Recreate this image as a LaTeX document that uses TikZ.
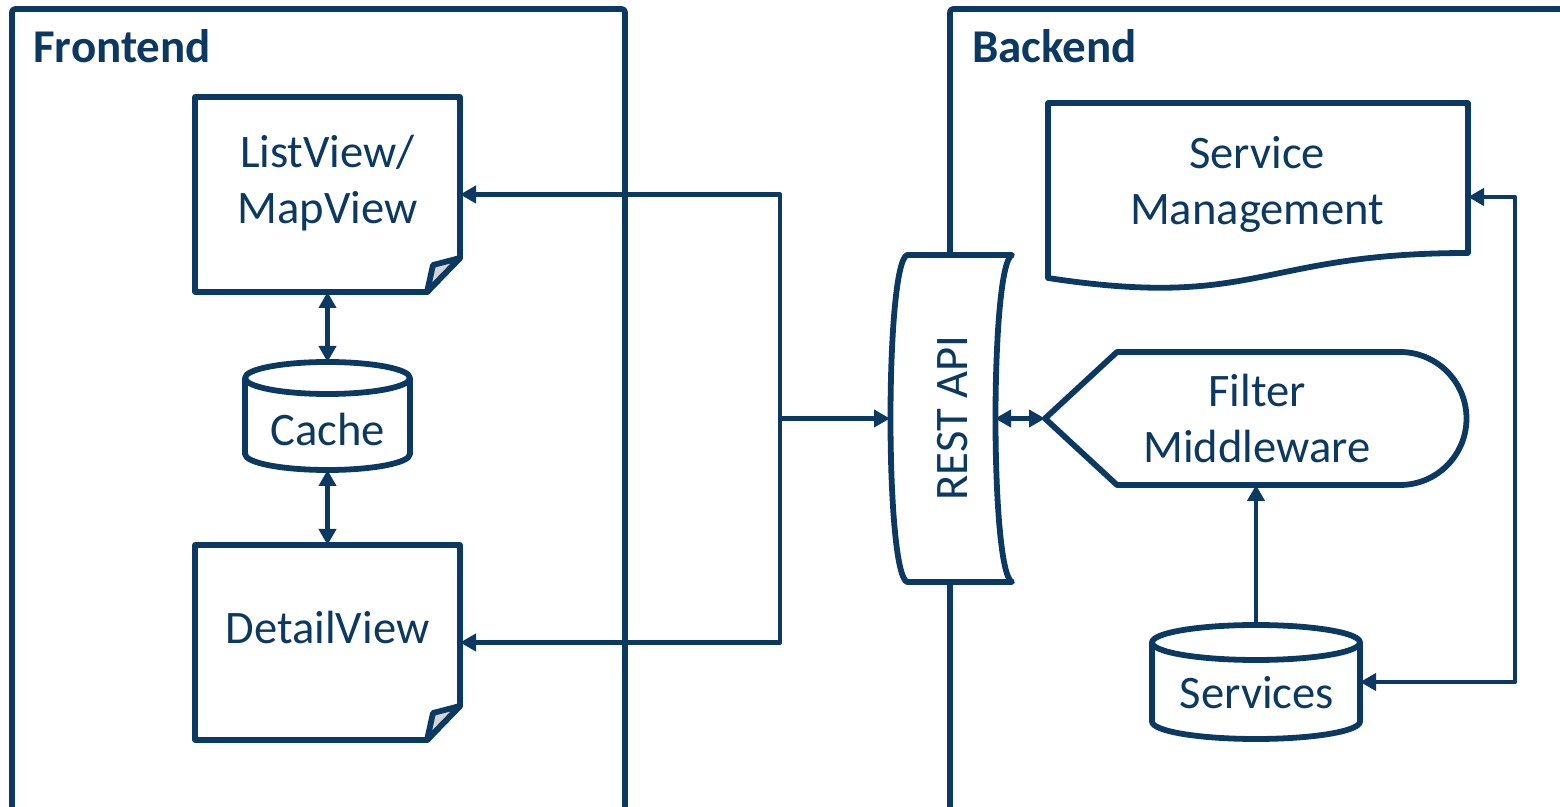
\documentclass[tikz,border=0pt]{standalone}
\usepackage{fontspec}
\setmainfont{Carlito}
\usetikzlibrary{arrows.meta,calc}

\definecolor{navy}{RGB}{12,57,97}
\definecolor{foldgray}{RGB}{212,212,212}

\begin{document}
\begin{tikzpicture}[x=0.5pt,y=-0.5pt,line join=round,
    slot/.style={draw=none,inner sep=0pt,outer sep=0pt},
    txt/.style={text=navy,font=\fontsize{23.3pt}{28pt}\selectfont,align=center,inner sep=0pt},
    head/.style={text=navy,font=\fontsize{23.5pt}{28pt}\selectfont\bfseries,anchor=base west,inner sep=0pt},
    outline/.style={draw=navy,line width=2.9pt,fill=white},
    panel/.style={draw=navy,line width=2.8pt,rounded corners=1.5pt},
    link/.style={draw=navy,line width=2.4pt,-{Triangle[length=8pt,width=8.5pt]}},
    twoway/.style={link,{Triangle[length=8pt,width=8.5pt]}-{Triangle[length=8pt,width=8.5pt]}}]

    \useasboundingbox (0,0) rectangle (1560,807);

    % the two areas
    \draw[panel] (12,830) -- (12,9) -- (625,9) -- (625,830);
    \draw[panel] (950,830) -- (950,9) -- (1580,9);
    \node[head] (front) at (33,63) {Frontend};
    \node[head] (back) at (972,63) {Backend};

    % boxes
    \node[slot,minimum width=132.5pt,minimum height=97.5pt] (list) at (327.5,194.5) {};
    \node[slot,minimum width=132.5pt,minimum height=97.5pt] (detail) at (327.5,642.5) {};
    \node[slot,minimum width=82.5pt,minimum height=54pt] (cache) at (327.5,416) {};
    \node[slot,minimum width=52.5pt,minimum height=164.5pt] (rest) at (942.5,418.5) {};
    \node[slot,minimum width=211pt,minimum height=66.5pt] (filt) at (1256,418.5) {};
    \node[slot,minimum width=210pt,minimum height=94pt] (mgmt) at (1258,197) {};
    \node[slot,minimum width=104pt,minimum height=57pt] (serv) at (1256,682) {};

    % documents with folded corner
    \foreach \d in {list,detail} {
        \draw[outline] (\d.north west) -- (\d.north east) -- ($(\d.south east)+(0,-34)$)
            -- ($(\d.south east)+(-33,0)$) -- (\d.south west) -- cycle;
        \draw[outline,fill=foldgray] ($(\d.south east)+(-33,0)$) -- ($(\d.south east)+(-27,-27)$)
            -- ($(\d.south east)+(0,-34)$) -- cycle;
    }

    % data stores
    \draw[outline] ($(cache.north west)+(0,16)$) -- ($(cache.south west)+(0,-16)$)
        arc[start angle=180,end angle=0,x radius=82.5,y radius=16] -- ($(cache.north east)+(0,16)$);
    \draw[outline] ($(cache.north)+(0,16)$) ellipse[x radius=82.5,y radius=16];
    \draw[outline] ($(serv.north west)+(0,17.5)$) -- ($(serv.south west)+(0,-17.5)$)
        arc[start angle=180,end angle=0,x radius=104,y radius=17.5] -- ($(serv.north east)+(0,17.5)$);
    \draw[outline] ($(serv.north)+(0,17.5)$) ellipse[x radius=104,y radius=17.5];

    % interface
    \draw[outline] (907,255) .. controls (885,265) and (885,572) .. (907,582) -- (1012,582)
        .. controls (990,572) and (990,265) .. (1012,255) -- cycle;

    % display shape
    \draw[outline] (filt.west) -- (1117,352) -- (1400,352) arc[start angle=-90,end angle=90,radius=66.5]
        -- (1117,485) -- cycle;

    % wavy document
    \draw[outline] (mgmt.north west) -- (mgmt.north east) -- (1468,253)
        .. controls (1258,253) and (1258,310) .. (1048,278) -- cycle;

    % texts
    \node[txt] (listtxt) at (327.5,183) {ListView/\\MapView};
    \node[txt] (detailtxt) at (327.5,627) {DetailView};
    \node[txt] (cachetxt) at (327.5,429) {Cache};
    \node[txt,rotate=90] (resttxt) at (952.5,418) {REST API};
    \node[txt] (filttxt) at (1257,418.5) {Filter\\Middleware};
    \node[txt] (mgmttxt) at (1257,184) {Service\\Management};
    \node[txt] (servtxt) at (1257,693) {Services};

    % connectors
    \coordinate (hub) at (780,418.5);
    \draw[link] (hub) -- (rest.west);
    \draw[link] (hub) |- (list.east);
    \draw[link] (hub) |- (detail.east);
    \draw[twoway] (list.south) -- (cache.north);
    \draw[twoway] (cache.south) -- (detail.north);
    \draw[twoway] (rest.east) -- (filt.west);
    \draw[link] (serv.north) -- (filt.south);
    \draw[twoway] (mgmt.east) -- ++(47,0) |- (serv.east);

\end{tikzpicture}
\end{document}
